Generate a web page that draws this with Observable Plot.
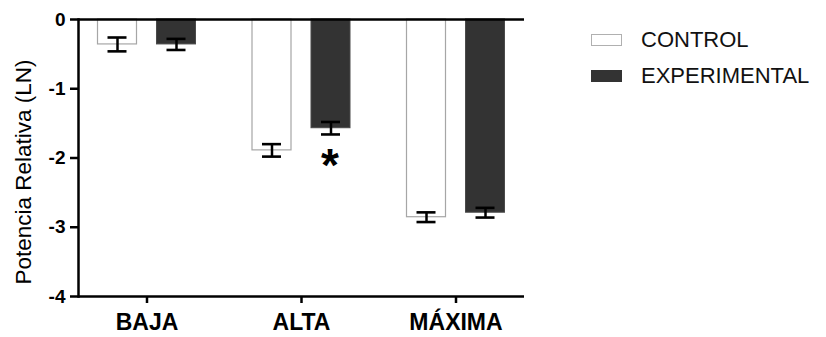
<!DOCTYPE html>
<html>
<head>
<meta charset="utf-8">
<script src="https://cdn.jsdelivr.net/npm/d3@7"></script>
<script src="https://cdn.jsdelivr.net/npm/@observablehq/plot@0.6"></script>
<style>
  body { margin: 0; background: #fff; }
  #wrap { position: relative; width: 826px; height: 337px; font-family: "Liberation Sans", Arial, sans-serif; }
  .legend { position: absolute; left: 591px; top: 0; }
  .item { position: absolute; left: 0; display: flex; align-items: center; white-space: nowrap; }
  .sw { width: 31px; height: 12px; box-sizing: border-box; margin-right: 19px; }
  .lab { font-size: 22px; color: #111; }
</style>
</head>
<body>
<div id="wrap"></div>
<script>
// ---- data ----
const groups = ["BAJA", "ALTA", "MÁXIMA"];
const series = ["CONTROL", "EXPERIMENTAL"];
const controlMean = [-0.36, -1.89, -2.855];
const controlSem = [0.10, 0.09, 0.07];
const experimentalMean = [-0.36, -1.57, -2.79];
const experimentalSem = [0.08, 0.09, 0.07];
const yTicks = [0, -1, -2, -3, -4];
const yLabel = "Potencia Relativa (LN)";
const significance = [{group: "ALTA", series: "EXPERIMENTAL", label: "*"}];

// ---- build table ----
const rows = [];
groups.forEach((g, i) => {
  rows.push({group: g, series: series[0], mean: controlMean[i], sem: controlSem[i]});
  rows.push({group: g, series: series[1], mean: experimentalMean[i], sem: experimentalSem[i]});
});
const ctrl = rows.filter(d => d.series === series[0]);
const expe = rows.filter(d => d.series === series[1]);
const sigRows = significance.map(s => {
  const r = rows.find(d => d.group === s.group && d.series === s.series);
  return {...s, y: r.mean - r.sem};
});

const fills = {CONTROL: "#ffffff", EXPERIMENTAL: "#333333"};
const strokes = {CONTROL: "#a6a6a6", EXPERIMENTAL: "#4a4a4a"};

// band geometry (pixels)
const B = 98, barW = 39, capW = 19;
const off = (B - barW) / 2; // offset of each bar center from band center

const chart = Plot.plot({
  width: 826,
  height: 337,
  marginLeft: 78,
  marginRight: 302,
  marginTop: 19,
  marginBottom: 41,
  style: {fontFamily: "Liberation Sans, Arial, sans-serif", color: "#000", background: "transparent", overflow: "visible"},
  x: {domain: groups, paddingInner: 0.3657, paddingOuter: 0.1262, round: false, label: null},
  y: {domain: [-4, 0], label: null},
  marks: [
    Plot.barY(ctrl, {x: "group", y1: 0, y2: "mean", fill: fills.CONTROL, stroke: strokes.CONTROL, strokeWidth: 1.2, insetLeft: 0, insetRight: B - barW}),
    Plot.barY(expe, {x: "group", y1: 0, y2: "mean", fill: fills.EXPERIMENTAL, stroke: strokes.EXPERIMENTAL, strokeWidth: 1, insetLeft: B - barW, insetRight: 0}),
    // error stems
    Plot.ruleX(ctrl, {x: "group", y1: d => d.mean - d.sem, y2: d => d.mean + d.sem, dx: -off, stroke: "#000", strokeWidth: 2.5}),
    Plot.ruleX(expe, {x: "group", y1: d => d.mean - d.sem, y2: d => d.mean + d.sem, dx: off, stroke: "#000", strokeWidth: 2.5}),
    // caps
    Plot.tickY(ctrl, {x: "group", y: d => d.mean - d.sem, insetLeft: (barW - capW) / 2, insetRight: B - barW + (barW - capW) / 2, stroke: "#000", strokeWidth: 2.6}),
    Plot.tickY(ctrl, {x: "group", y: d => d.mean + d.sem, insetLeft: (barW - capW) / 2, insetRight: B - barW + (barW - capW) / 2, stroke: "#000", strokeWidth: 2.6}),
    Plot.tickY(expe, {x: "group", y: d => d.mean - d.sem, insetLeft: B - barW + (barW - capW) / 2, insetRight: (barW - capW) / 2, stroke: "#000", strokeWidth: 2.6}),
    Plot.tickY(expe, {x: "group", y: d => d.mean + d.sem, insetLeft: B - barW + (barW - capW) / 2, insetRight: (barW - capW) / 2, stroke: "#000", strokeWidth: 2.6}),
    // significance
    Plot.text(sigRows, {x: "group", y: "y", text: "label", dx: off - 1, dy: 32, fontSize: 46, fontWeight: "bold", fill: "#000"}),
    // axis lines
    Plot.ruleY([0], {stroke: "#000", strokeWidth: 2.5}),
    Plot.ruleY([-4], {stroke: "#000", strokeWidth: 2.5}),
    Plot.frame({anchor: "left", stroke: "#000", strokeWidth: 2.5}),
    Plot.axisY({ticks: yTicks, tickFormat: d => d === 0 ? "0" : String(d).replace("−", "-"), tickSize: 8, tickPadding: 5, fontSize: 19, fontWeight: "bold", stroke: "#000", strokeWidth: 2.5, label: null}),
    Plot.axisX({tickSize: 7, tickPadding: 10, fontSize: 23, fontWeight: "bold", stroke: "#000", strokeWidth: 2.5, label: null}),
    Plot.text([yLabel], {frameAnchor: "left", textAnchor: "middle", text: d => d, rotate: -90, dx: -55, dy: 14, fontSize: 22.5, fill: "#000"})
  ]
});

const wrap = document.getElementById("wrap");
wrap.appendChild(chart);

// legend
const legend = document.createElement("div");
legend.className = "legend";
const tops = [34, 70];
series.forEach((s, i) => {
  const it = document.createElement("div");
  it.className = "item";
  it.style.top = (tops[i] - 8) + "px";
  it.style.height = "28px";
  const sw = document.createElement("div");
  sw.className = "sw";
  sw.style.background = fills[s];
  sw.style.border = "1px solid " + (i === 0 ? "#b0b0b0" : "#333");
  const lab = document.createElement("span");
  lab.className = "lab";
  lab.textContent = s;
  it.appendChild(sw);
  it.appendChild(lab);
  legend.appendChild(it);
});
wrap.appendChild(legend);
</script>
</body>
</html>
